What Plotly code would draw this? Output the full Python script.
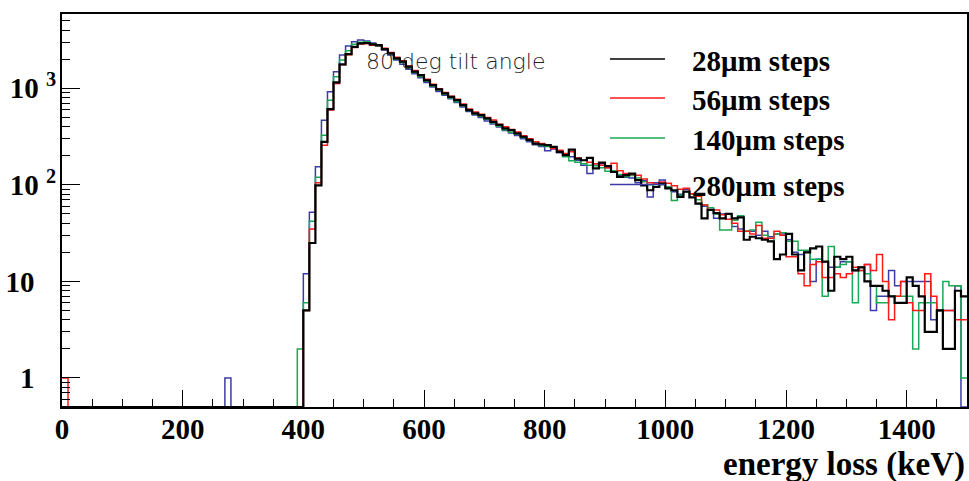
import plotly.graph_objects as go

# ---------------- data (counts per 10 keV bin, 0..1500 keV) ----------------
bin_width = 10
n_bins = 150
bin_edges = [i * bin_width for i in range(n_bins + 1)]

steps_28um = [0] * 40 + [
    5, 25, 99, 279, 609, 1150, 1770, 2260, 2693, 2918,
    2950, 2860, 2800, 2550, 2300, 2040, 1890, 1680, 1490, 1370,
    1210, 1080, 975, 887, 817, 755, 670, 594, 550, 528,
    488, 450, 418, 385, 369, 342, 315, 292, 268, 262,
    258, 248, 220, 203, 232, 187, 180, 190, 148, 170,
    156, 136, 121, 126, 131, 112, 99, 88, 95, 103,
    92, 88, 75, 85, 74, 64, 45, 55, 51, 45,
    50, 45, 46, 27, 29, 28, 27, 26, 17, 19,
    31, 19, 13, 20, 22, 23, 16, 8, 18, 17,
    18, 13, 14, 10, 9, 9, 8, 7, 6, 6,
    11, 9, 7, 3, 3, 5, 2, 2, 8, 7,
]

steps_56um = [1] + [0] * 39 + [
    5, 35, 105, 257, 595, 1120, 1750, 2230, 2650, 2880,
    2900, 2800, 2780, 2600, 2350, 2100, 1930, 1700, 1530, 1380,
    1240, 1100, 990, 905, 830, 770, 690, 610, 570, 540,
    500, 470, 425, 400, 375, 352, 322, 300, 280, 268,
    258, 238, 229, 211, 220, 190, 180, 172, 165, 160,
    150, 167, 140, 131, 128, 126, 115, 105, 102, 107,
    104, 98, 90, 92, 81, 76, 62, 55, 55, 49,
    44, 40, 33, 33, 31, 38, 28, 28, 33, 30,
    18, 18, 12, 9, 15, 16, 11, 11, 12, 11,
    12, 14, 13, 15, 13, 19, 10, 4, 7, 10,
    6, 5, 5, 12, 7, 5, 5, 5, 4, 4,
]

steps_140um = [0] * 39 + [2] + [
    6, 42, 120, 327, 753, 1315, 1960, 2448, 2870, 3000,
    3030, 2900, 2750, 2540, 2280, 2010, 1850, 1640, 1460, 1330,
    1190, 1060, 960, 870, 795, 725, 660, 590, 545, 515,
    478, 440, 405, 372, 350, 335, 310, 288, 270, 255,
    250, 240, 222, 195, 178, 172, 165, 160, 158, 150,
    138, 140, 128, 122, 125, 118, 108, 100, 96, 100,
    95, 69, 78, 85, 80, 70, 62, 58, 50, 34,
    34, 43, 48, 33, 34, 41, 30, 26, 31, 32,
    26, 26, 21, 21, 17, 17, 7, 23, 14, 15,
    16, 6, 13, 12, 9, 6, 6, 7, 7, 7,
    7, 2, 6, 6, 6, 5, 10, 9, 9, 1,
]

steps_280um = [0] * 27 + [1] + [0] * 12 + [
    12, 52, 154, 468, 920, 1483, 2208, 2737, 3033, 3162,
    3100, 2950, 2750, 2500, 2220, 1960, 1780, 1580, 1420, 1290,
    1150, 1030, 930, 850, 780, 715, 640, 575, 530, 500,
    460, 428, 398, 365, 345, 325, 300, 280, 260, 250,
    225, 235, 215, 205, 195, 180, 160, 131, 165, 165,
    150, 140, 125, 120, 118, 105, 110, 75, 105, 112,
    95, 85, 80, 90, 75, 64, 60, 55, 45, 50,
    50, 37, 35, 33, 33, 30, 33, 29, 31, 31,
    27, 20, 19, 20, 10, 17, 16, 14, 14, 16,
    16, 13, 14, 15, 5, 7, 7, 13, 9, 10,
    10, 10, 10, 10, 4, 5, 5, 5, 9, 0,
]

series_names = ["28\u03bcm steps", "56\u03bcm steps", "140\u03bcm steps", "280\u03bcm steps"]
series_values = [steps_28um, steps_56um, steps_140um, steps_280um]
series_colors = ["#000000", "#ff1a1a", "#1aaa55", "#3c3ca8"]
series_widths = [2.2, 1.5, 1.5, 1.5]

y_min = 0.5
y_max_log = 3.77
x_ticks = [0, 200, 400, 600, 800, 1000, 1200, 1400]
y_ticks = [1, 10, 100, 1000]
y_tick_text = ["<b>1</b>&nbsp;&nbsp;&nbsp;", "<b>10</b>&nbsp;&nbsp;&nbsp;",
               "<b>10 <sup>2</sup></b>", "<b>10 <sup>3</sup></b>"]
annotation_text = "80 deg tilt angle"
x_title = "energy loss (keV)"

# ---------------- figure ----------------
fig = go.Figure()

draw_order = [3, 2, 1, 0]
for idx in draw_order:
    vals = series_values[idx]
    ys = [max(v, y_min) for v in vals] + [max(vals[-1], y_min)]
    fig.add_trace(go.Scatter(
        x=bin_edges, y=ys, mode="lines",
        line=dict(shape="hv", color=series_colors[idx], width=series_widths[idx]),
        name=series_names[idx], showlegend=False, hoverinfo="skip",
    ))

serif = "Liberation Serif"
fs = 29

fig.update_layout(
    width=969, height=481,
    margin=dict(l=62, r=2, t=14, b=74, autoexpand=False),
    paper_bgcolor="white", plot_bgcolor="white",
    showlegend=False,
    xaxis=dict(
        range=[0, 1500], showgrid=False, zeroline=False, automargin=False,
        showline=True, linecolor="black", linewidth=2, mirror=True,
        ticks="inside", ticklen=17, tickwidth=1, tickcolor="black",
        tickmode="array", tickvals=x_ticks,
        ticktext=[f"<b>{t}</b>" for t in x_ticks],
        tickfont=dict(family=serif, size=fs, color="black"),
        minor=dict(ticks="inside", ticklen=8, tickwidth=1, tickcolor="black",
                   dtick=50, tick0=0, showgrid=False),
        ticklabelstandoff=-5,
    ),
    yaxis=dict(
        type="log", range=[-0.30103, y_max_log], showgrid=False, zeroline=False,
        automargin=False,
        showline=True, linecolor="black", linewidth=2, mirror=True,
        ticks="inside", ticklen=18, tickwidth=1, tickcolor="black",
        tickmode="array", tickvals=y_ticks, ticktext=y_tick_text,
        tickfont=dict(family=serif, size=fs, color="black"),
        minor=dict(ticks="inside", ticklen=8, tickwidth=1, tickcolor="black",
                   tickmode="array",
                   tickvals=[0.6, 0.7, 0.8, 0.9,
                             2, 3, 4, 5, 6, 7, 8, 9,
                             20, 30, 40, 50, 60, 70, 80, 90,
                             200, 300, 400, 500, 600, 700, 800, 900,
                             2000, 3000, 4000, 5000],
                   showgrid=False),
        ticklabelstandoff=-2,
    ),
)

# axis title, right aligned like ROOT
fig.add_annotation(
    text=f"<b>{x_title}</b>", xref="paper", yref="paper",
    x=1.0, y=-(465 - 407) / 393, xanchor="right", yanchor="middle", showarrow=False,
    font=dict(family=serif, size=33, color="black"),
)

# text label
fig.add_annotation(
    text=annotation_text, xref="paper", yref="paper",
    x=(364 - 62) / 905, y=(407 - 61) / 393, xanchor="left", yanchor="middle",
    showarrow=False,
    font=dict(family="DejaVu Sans", size=22, color="#222222", weight=200),
)

# legend (ROOT-style TLegend drawn manually)
legend_rows_y = [59, 98, 138, 184.5]
legend_text_y = [61, 100, 140, 186]
for i in range(4):
    yl = (407 - legend_rows_y[i]) / 393
    fig.add_shape(type="line", xref="paper", yref="paper",
                  x0=(610 - 62) / 905, x1=(665 - 62) / 905, y0=yl, y1=yl,
                  line=dict(color=series_colors[i], width=1.5))
    fig.add_annotation(
        text=f"<b>{series_names[i]}</b>", xref="paper", yref="paper",
        x=(690 - 62) / 905, y=(407 - legend_text_y[i]) / 393,
        xanchor="left", yanchor="middle", showarrow=False,
        font=dict(family=serif, size=fs, color="black"),
    )

fig.write_html(
    "out.html",
    config={"displayModeBar": False},
    post_script="document.body.style.margin='0px';document.body.style.overflow='hidden';",
)
